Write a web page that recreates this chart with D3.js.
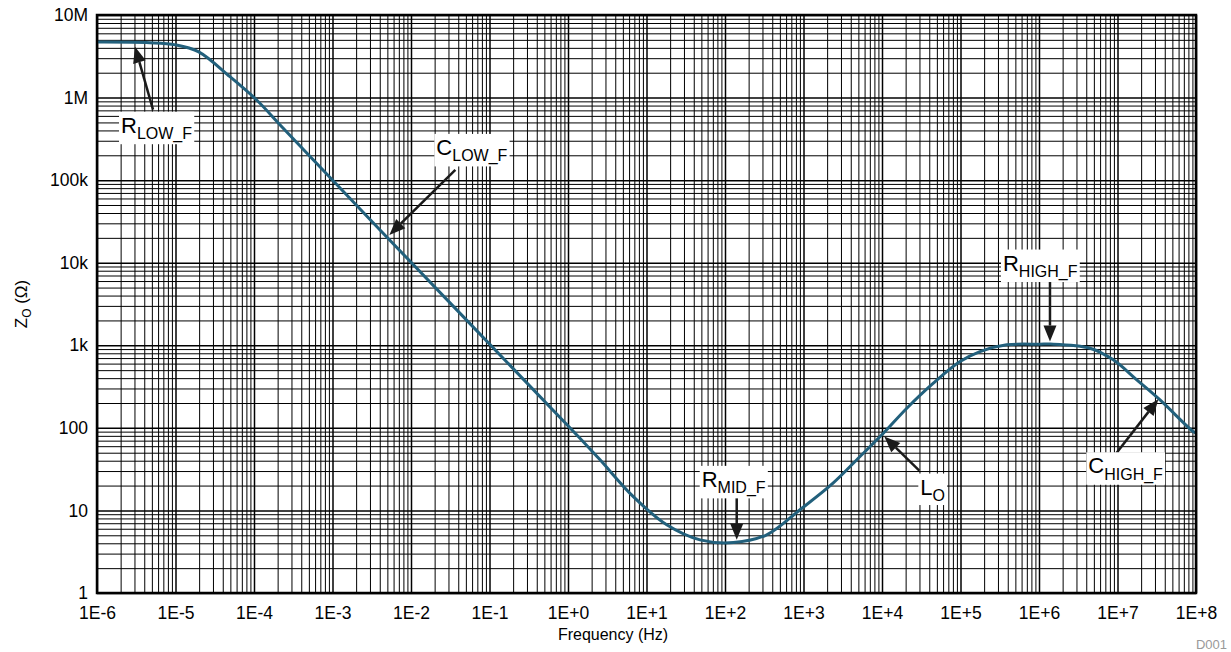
<!DOCTYPE html>
<html>
<head>
<meta charset="utf-8">
<script src="https://cdn.jsdelivr.net/npm/d3@7"></script>
<style>
  body { margin: 0; background: #fff; }
  svg { display: block; font-family: "Liberation Sans", Arial, sans-serif; }
</style>
</head>
<body>
<div id="main"></div>
<script>
// values
var freq = [1e-6, 4.7e-6, 1e-5, 1.95e-5, 4.94e-5, 1.08e-4, 2.34e-4, 4.03e-3, 1.42, 2.56, 6.79, 18.1, 48.1, 128, 340, 902, 2377, 5248, 1.04e4, 2.07e4, 4.51e4, 9.86e4, 1.77e5, 3.88e5, 1.03e6, 1.4e6, 4.47e6, 8.83e6, 1.76e7, 3.48e7, 9.25e7, 1e8];
var zo = [4.7e6, 4.62e6, 4.35e6, 3.6e6, 1.79e6, 9.35e5, 4.29e5, 2.49e4, 75, 41, 14.7, 6.7, 4.4, 4.08, 5.07, 10.2, 21.4, 45, 86, 173, 348, 635, 840, 1012, 1030, 1035, 922, 666, 381, 218, 90, 87];

var xTicks = [1e-6, 1e-5, 1e-4, 1e-3, 1e-2, 1e-1, 1e0, 1e1, 1e2, 1e3, 1e4, 1e5, 1e6, 1e7, 1e8];
var xTickLabels = ["1E-6", "1E-5", "1E-4", "1E-3", "1E-2", "1E-1", "1E+0", "1E+1", "1E+2", "1E+3", "1E+4", "1E+5", "1E+6", "1E+7", "1E+8"];
var yTicks = [1, 10, 100, 1e3, 1e4, 1e5, 1e6, 1e7];
var yTickLabels = ["1", "10", "100", "1k", "10k", "100k", "1M", "10M"];

// callouts: where the arrow points (data), tail and label offsets (px)
var notes = [
  { main: "R", sub: "LOW_F",  f: 3.05e-6, z: 4.13e6, tail: [18, 63],  lab: [-14, 86] },
  { main: "C", sub: "LOW_F",  f: 5.3e-3,  z: 2.17e4, tail: [66, -65], lab: [47, -80] },
  { main: "R", sub: "MID_F",  f: 141,     z: 4.4,    tail: [0, -42],  lab: [-35, -53] },
  { main: "L", sub: "O",      f: 1.07e4,  z: 78.5,   tail: [35, 34],  lab: [36, 58] },
  { main: "R", sub: "HIGH_F", f: 1.38e6,  z: 1110,   tail: [0, -64],  lab: [-47, -71] },
  { main: "C", sub: "HIGH_F", f: 3.31e7,  z: 222,    tail: [-42, 54], lab: [-70, 74] }
];

var W = 1231, H = 652;
var pL = 97, pR = 1196, pT = 15, pB = 593;

var svg = d3.select("#main").append("svg")
  .attr("width", W)
  .attr("height", H);

var x = d3.scaleLog().domain([1e-6, 1e8]).range([pL, pR]);
var y = d3.scaleLog().domain([1, 1e7]).range([pB, pT]);

// grid, 2..9 in every decade
var xGrid = [];
xTicks.forEach(function(d, i) {
  if (i == xTicks.length - 1) return;
  for (var k = 2; k < 10; k++) xGrid.push(d * k);
});
var yGrid = [];
yTicks.forEach(function(d, i) {
  if (i == yTicks.length - 1) return;
  for (var k = 2; k < 10; k++) yGrid.push(d * k);
});

var grid = svg.append("g");

function gridX(vals, w) {
  grid.append("g")
    .attr("transform", "translate(0," + pB + ")")
    .call(d3.axisBottom(x).tickValues(vals).tickSize(-(pB - pT)).tickFormat(""))
    .call(function(g) { g.select(".domain").remove(); })
    .selectAll("line").attr("stroke", "#000").attr("stroke-width", w);
}
function gridY(vals, w) {
  grid.append("g")
    .attr("transform", "translate(" + pL + ",0)")
    .call(d3.axisLeft(y).tickValues(vals).tickSize(-(pR - pL)).tickFormat(""))
    .call(function(g) { g.select(".domain").remove(); })
    .selectAll("line").attr("stroke", "#000").attr("stroke-width", w);
}
gridX(xGrid, 1);
gridY(yGrid, 1);
// decade lines a bit heavier
gridX(xTicks, 1.5);
gridY(yTicks, 1.5);

// tick labels
var xAxis = svg.append("g")
  .attr("transform", "translate(0," + pB + ")")
  .call(d3.axisBottom(x).tickValues(xTicks).tickSize(0).tickPadding(14)
    .tickFormat(function(d, i) { return xTickLabels[i]; }));
xAxis.select(".domain").remove();
xAxis.selectAll("text").attr("font-size", 17.5).attr("fill", "#000")
  .attr("font-family", "Liberation Sans, Arial, sans-serif");

var yAxis = svg.append("g")
  .attr("transform", "translate(" + pL + ",0)")
  .call(d3.axisLeft(y).tickValues(yTicks).tickSize(0).tickPadding(9)
    .tickFormat(function(d, i) { return yTickLabels[i]; }));
yAxis.select(".domain").remove();
yAxis.selectAll("text").attr("font-size", 17.5).attr("fill", "#000")
  .attr("font-family", "Liberation Sans, Arial, sans-serif");

// the curve
var line = d3.line()
  .x(function(d, i) { return x(freq[i]); })
  .y(function(d, i) { return y(zo[i]); })
  .curve(d3.curveCatmullRom.alpha(0.5));

svg.append("path")
  .datum(zo)
  .attr("d", line)
  .attr("fill", "none")
  .attr("stroke", "#22607c")
  .attr("stroke-width", 3);

// frame
svg.append("rect")
  .attr("x", pL)
  .attr("y", pT)
  .attr("width", pR - pL)
  .attr("height", pB - pT)
  .attr("fill", "none")
  .attr("stroke", "#000")
  .attr("stroke-width", 2.5);

// callouts
var ann = svg.append("g");
notes.forEach(function(n) {
  var tx = x(n.f), ty = y(n.z);
  var sx = tx + n.tail[0], sy = ty + n.tail[1];
  var a = Math.atan2(ty - sy, tx - sx);
  var len = 16, hw = 6.5;
  var bx = tx - len * Math.cos(a), by = ty - len * Math.sin(a);

  ann.append("line")
    .attr("x1", sx).attr("y1", sy)
    .attr("x2", bx).attr("y2", by)
    .attr("stroke", "#1a1a1a")
    .attr("stroke-width", 2.5);

  ann.append("polygon")
    .attr("points", [
      [tx, ty],
      [bx + hw * Math.sin(a), by - hw * Math.cos(a)],
      [bx - hw * Math.sin(a), by + hw * Math.cos(a)]
    ].map(function(p) { return p.join(","); }).join(" "))
    .attr("fill", "#1a1a1a");

  var g = ann.append("g");
  var bg = g.append("rect").attr("fill", "#fff");
  var t = g.append("text")
    .attr("x", tx + n.lab[0])
    .attr("y", ty + n.lab[1])
    .attr("fill", "#000");
  t.append("tspan").attr("font-size", 22).text(n.main);
  t.append("tspan").attr("font-size", 16).attr("dy", 6.5).text(n.sub);
  var bb = t.node().getBBox();
  bg.attr("x", bb.x - 2).attr("y", bb.y - 1)
    .attr("width", bb.width + 4).attr("height", bb.height + 2);
});

// axis titles
var yt = svg.append("text")
  .attr("transform", "translate(27," + ((pT + pB) / 2) + ") rotate(-90)")
  .attr("text-anchor", "middle")
  .attr("font-size", 17)
  .attr("fill", "#000");
yt.append("tspan").text("Z");
yt.append("tspan").attr("font-size", 12).attr("dy", 4).text("O");
yt.append("tspan").attr("dy", -4).text(" (\u03A9)");

svg.append("text")
  .attr("x", 613)
  .attr("y", 640)
  .attr("text-anchor", "middle")
  .attr("font-size", 16)
  .attr("fill", "#000")
  .text("Frequency (Hz)");

svg.append("text")
  .attr("x", 1227)
  .attr("y", 649)
  .attr("text-anchor", "end")
  .attr("font-size", 13)
  .attr("fill", "#999")
  .text("D001");
</script>
</body>
</html>
